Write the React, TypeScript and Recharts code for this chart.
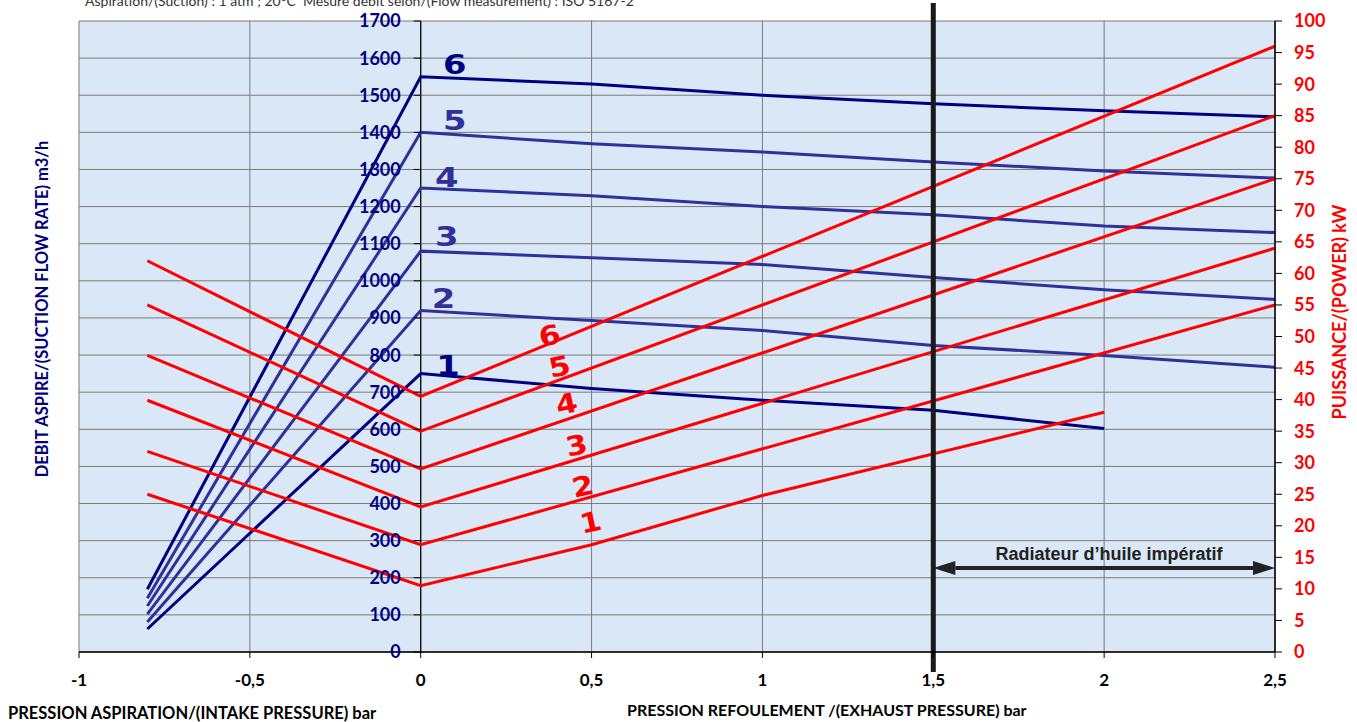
import React from 'react';
import {
  LineChart,
  Line,
  XAxis,
  YAxis,
  CartesianGrid,
  ReferenceLine,
  ReferenceDot,
} from 'recharts';

// pressure ticks (bar)
const X_TICKS = [-1, -0.5, 0, 0.5, 1, 1.5, 2, 2.5];
const FLOW_TICKS = [0, 100, 200, 300, 400, 500, 600, 700, 800, 900, 1000, 1100, 1200, 1300, 1400, 1500, 1600, 1700];
const POWER_TICKS = [0, 5, 10, 15, 20, 25, 30, 35, 40, 45, 50, 55, 60, 65, 70, 75, 80, 85, 90, 95, 100];

// suction flow rate m3/h, per pump size 1..6
const flow1 = [{ x: -0.8, y: 62 }, { x: 0, y: 750 }, { x: 0.5, y: 710 }, { x: 1, y: 678 }, { x: 1.5, y: 651 }, { x: 2, y: 602 }];
const flow2 = [{ x: -0.8, y: 81 }, { x: 0, y: 920 }, { x: 0.5, y: 893 }, { x: 1, y: 866 }, { x: 1.5, y: 826 }, { x: 2, y: 799 }, { x: 2.5, y: 767 }];
const flow3 = [{ x: -0.8, y: 102 }, { x: 0, y: 1080 }, { x: 0.5, y: 1062 }, { x: 1, y: 1044 }, { x: 1.5, y: 1009 }, { x: 2, y: 976 }, { x: 2.5, y: 950 }];
const flow4 = [{ x: -0.8, y: 124 }, { x: 0, y: 1250 }, { x: 0.5, y: 1229 }, { x: 1, y: 1200 }, { x: 1.5, y: 1178 }, { x: 2, y: 1148 }, { x: 2.5, y: 1130 }];
const flow5 = [{ x: -0.8, y: 145 }, { x: 0, y: 1400 }, { x: 0.5, y: 1369 }, { x: 1, y: 1347 }, { x: 1.5, y: 1320 }, { x: 2, y: 1296 }, { x: 2.5, y: 1277 }];
const flow6 = [{ x: -0.8, y: 169 }, { x: 0, y: 1550 }, { x: 0.5, y: 1530 }, { x: 1, y: 1500 }, { x: 1.5, y: 1477 }, { x: 2, y: 1458 }, { x: 2.5, y: 1442 }];

// power kW
const power1 = [{ x: -0.8, y: 25 }, { x: 0, y: 10.5 }, { x: 0.5, y: 17 }, { x: 1, y: 24.8 }, { x: 2, y: 38 }];
const power2 = [{ x: -0.8, y: 31.8 }, { x: 0, y: 17 }, { x: 2.5, y: 55 }];
const power3 = [{ x: -0.8, y: 39.9 }, { x: 0, y: 23 }, { x: 2.5, y: 64 }];
const power4 = [{ x: -0.8, y: 47 }, { x: 0, y: 29 }, { x: 2.5, y: 75 }];
const power5 = [{ x: -0.8, y: 55 }, { x: 0, y: 35 }, { x: 2.5, y: 85 }];
const power6 = [{ x: -0.8, y: 62 }, { x: 0, y: 40.5 }, { x: 2.5, y: 96 }];

// curve numbers
const flowLabels = [
  { n: '1', x: 0.08, y: 772 },
  { n: '2', x: 0.067, y: 952 },
  { n: '3', x: 0.076, y: 1119 },
  { n: '4', x: 0.076, y: 1278 },
  { n: '5', x: 0.1, y: 1431 },
  { n: '6', x: 0.1, y: 1582 },
];
const powerLabels = [
  { n: '1', x: 0.497, y: 20.6 },
  { n: '2', x: 0.474, y: 26.3 },
  { n: '3', x: 0.456, y: 32.8 },
  { n: '4', x: 0.427, y: 39.4 },
  { n: '5', x: 0.406, y: 45.3 },
  { n: '6', x: 0.377, y: 50.2 },
];

const W = 1357;
const H = 722;
const AXIS_W = 60;
const MARGIN = { top: 21, right: 82 - AXIS_W, bottom: 40, left: 79 - AXIS_W };
const PLOT_LEFT = MARGIN.left + AXIS_W;
const PLOT_W = W - MARGIN.left - MARGIN.right - 2 * AXIS_W;
// the flow axis sits on x = 0
const ZERO_X = PLOT_LEFT + ((0 - -1) / 3.5) * PLOT_W;

const NAVY = '#000080';
const MID_BLUE = '#30309a';
const RED = '#ff0000';
const FONT = 'Lato, "Open Sans", sans-serif';

const flowSeries = [
  { data: flow1, color: NAVY },
  { data: flow2, color: MID_BLUE },
  { data: flow3, color: MID_BLUE },
  { data: flow4, color: MID_BLUE },
  { data: flow5, color: MID_BLUE },
  { data: flow6, color: NAVY },
];
const powerSeries = [power1, power2, power3, power4, power5, power6];

const FlowTick = (props: any) => {
  const { y, payload } = props;
  return (
    <g>
      <line x1={ZERO_X - 7} x2={ZERO_X} y1={y} y2={y} stroke="#000" />
      <text
        x={ZERO_X - 20}
        y={y}
        dy="0.36em"
        textAnchor="end"
        fill={NAVY}
        fontSize={18}
        fontWeight={700}
        fontFamily={FONT}
      >
        {payload.value}
      </text>
    </g>
  );
};

const PowerTick = (props: any) => {
  const { y, payload } = props;
  const ax = PLOT_LEFT + PLOT_W;
  return (
    <g>
      <line x1={ax} x2={ax + 7} y1={y} y2={y} stroke="#000" />
      <text x={ax + 19} y={y} dy="0.36em" textAnchor="start" fill={RED} fontSize={18} fontWeight={700} fontFamily={FONT}>
        {payload.value}
      </text>
    </g>
  );
};

const ArrowShape = (props: any) => {
  const { x1, x2, y1 } = props;
  const head = 22;
  return (
    <g>
      <line x1={x1 + head} x2={x2 - head} y1={y1} y2={y1} stroke="#222" strokeWidth={4} />
      <polygon points={`${x1},${y1} ${x1 + head},${y1 - 7} ${x1 + head},${y1 + 7}`} fill="#222" />
      <polygon points={`${x2},${y1} ${x2 - head},${y1 - 7} ${x2 - head},${y1 + 7}`} fill="#222" />
    </g>
  );
};

const LimitShape = (props: any) => {
  const { x1, y1, y2 } = props;
  return <line x1={x1} x2={x1} y1={Math.min(y1, y2) - 18} y2={Math.max(y1, y2) + 20} stroke="#1a1a1a" strokeWidth={5} />;
};

const abs = (left: number, top: number, extra: React.CSSProperties = {}): React.CSSProperties => ({
  position: 'absolute',
  left,
  top,
  whiteSpace: 'nowrap',
  fontFamily: FONT,
  fontWeight: 700,
  ...extra,
});

export default function App() {
  return (
    <div style={{ position: 'absolute', left: 0, top: 0, width: W, height: H, overflow: 'hidden', background: '#fff' }}>
      <LineChart width={W} height={H} margin={MARGIN}>
        <CartesianGrid yAxisId="flow" stroke="#7a7a7a" fill="#d9e7f6" fillOpacity={1} />
        <XAxis
          dataKey="x"
          type="number"
          domain={[-1, 2.5]}
          ticks={X_TICKS}
          height={30}
          tickSize={6}
          tickMargin={16}
          axisLine={{ stroke: '#000', strokeWidth: 1.5 }}
          tickLine={{ stroke: '#000' }}
          tickFormatter={(v: number) => String(v).replace('.', ',')}
          tick={{ fill: '#000', fontSize: 17, fontWeight: 700, fontFamily: FONT }}
        />
        <YAxis
          yAxisId="flow"
          orientation="left"
          type="number"
          domain={[0, 1700]}
          ticks={FLOW_TICKS}
          width={AXIS_W}
          axisLine={false}
          tickLine={false}
          tick={<FlowTick />}
          interval={0}
        />
        <YAxis
          yAxisId="power"
          orientation="right"
          type="number"
          domain={[0, 100]}
          ticks={POWER_TICKS}
          width={AXIS_W}
          interval={0}
          axisLine={{ stroke: '#000', strokeWidth: 1.5 }}
          tickLine={false}
          tick={<PowerTick />}
        />

        <ReferenceLine yAxisId="flow" x={0} stroke="#000" strokeWidth={1.2} />

        {flowSeries.map((s, i) => (
          <Line
            key={`f${i}`}
            yAxisId="flow"
            data={s.data}
            dataKey="y"
            type="linear"
            stroke={s.color}
            strokeWidth={3}
            dot={false}
            isAnimationActive={false}
          />
        ))}
        {powerSeries.map((d, i) => (
          <Line
            key={`p${i}`}
            yAxisId="power"
            data={d}
            dataKey="y"
            type="linear"
            stroke={RED}
            strokeWidth={3}
            dot={false}
            isAnimationActive={false}
          />
        ))}

        <ReferenceLine yAxisId="flow" x={1.5} shape={<LimitShape />} />
        <ReferenceLine
          yAxisId="power"
          segment={[{ x: 1.5, y: 13.3 }, { x: 2.5, y: 13.3 }]}
          shape={<ArrowShape />}
        />

        {flowLabels.map((l) => (
          <ReferenceDot
            key={`fl${l.n}`}
            yAxisId="flow"
            x={l.x}
            y={l.y}
            r={0}
            shape={(p: any) => (
              <text
                x={p.cx}
                y={p.cy}
                dy="0.36em"
                textAnchor="middle"
                fill={l.n === '1' || l.n === '6' ? NAVY : MID_BLUE}
                fontSize={26}
                fontWeight={900}
                fontFamily='"DejaVu Sans", sans-serif'
                transform={`translate(${p.cx},${p.cy}) scale(1.3,1) translate(${-p.cx},${-p.cy})`}
              >
                {l.n}
              </text>
            )}
          />
        ))}
        {powerLabels.map((l) => (
          <ReferenceDot
            key={`pl${l.n}`}
            yAxisId="power"
            x={l.x}
            y={l.y}
            r={0}
            shape={(p: any) => (
              <text
                x={p.cx}
                y={p.cy}
                dy="0.36em"
                textAnchor="middle"
                fill={RED}
                fontSize={27}
                fontWeight={900}
                fontFamily='"DejaVu Sans", sans-serif'
                transform={`rotate(-12 ${p.cx} ${p.cy}) translate(${p.cx},${p.cy}) scale(1.15,1) translate(${-p.cx},${-p.cy})`}
              >
                {l.n}
              </text>
            )}
          />
        ))}
      </LineChart>

      <div style={abs(85, -6, { fontWeight: 400, fontSize: 14, lineHeight: '14px', color: '#333' })}>
        Aspiration/(Suction) : 1 atm ; 20°C&nbsp;&nbsp;Mesure débit selon/(Flow measurement) : ISO 5167-2
      </div>
      <div style={abs(1109, 554, { fontFamily: '"Liberation Sans", Arial, sans-serif', fontSize: 18, color: '#222', transform: 'translate(-50%, -50%)' })}>
        Radiateur d’huile impératif
      </div>
      <div style={abs(42, 309, { fontSize: 16.5, color: NAVY, transform: 'translate(-50%, -50%) rotate(-90deg)' })}>
        DEBIT ASPIRE/(SUCTION FLOW RATE) m3/h
      </div>
      <div style={abs(1339, 312, { fontSize: 18, color: RED, transform: 'translate(-50%, -50%) rotate(-90deg)' })}>
        PUISSANCE/(POWER) kW
      </div>
      <div style={abs(8, 703, { fontSize: 16.5, color: '#000' })}>
        PRESSION ASPIRATION/(INTAKE PRESSURE) bar
      </div>
      <div style={abs(627, 700, { fontSize: 16, color: '#000' })}>
        PRESSION REFOULEMENT /(EXHAUST PRESSURE) bar
      </div>
    </div>
  );
}
